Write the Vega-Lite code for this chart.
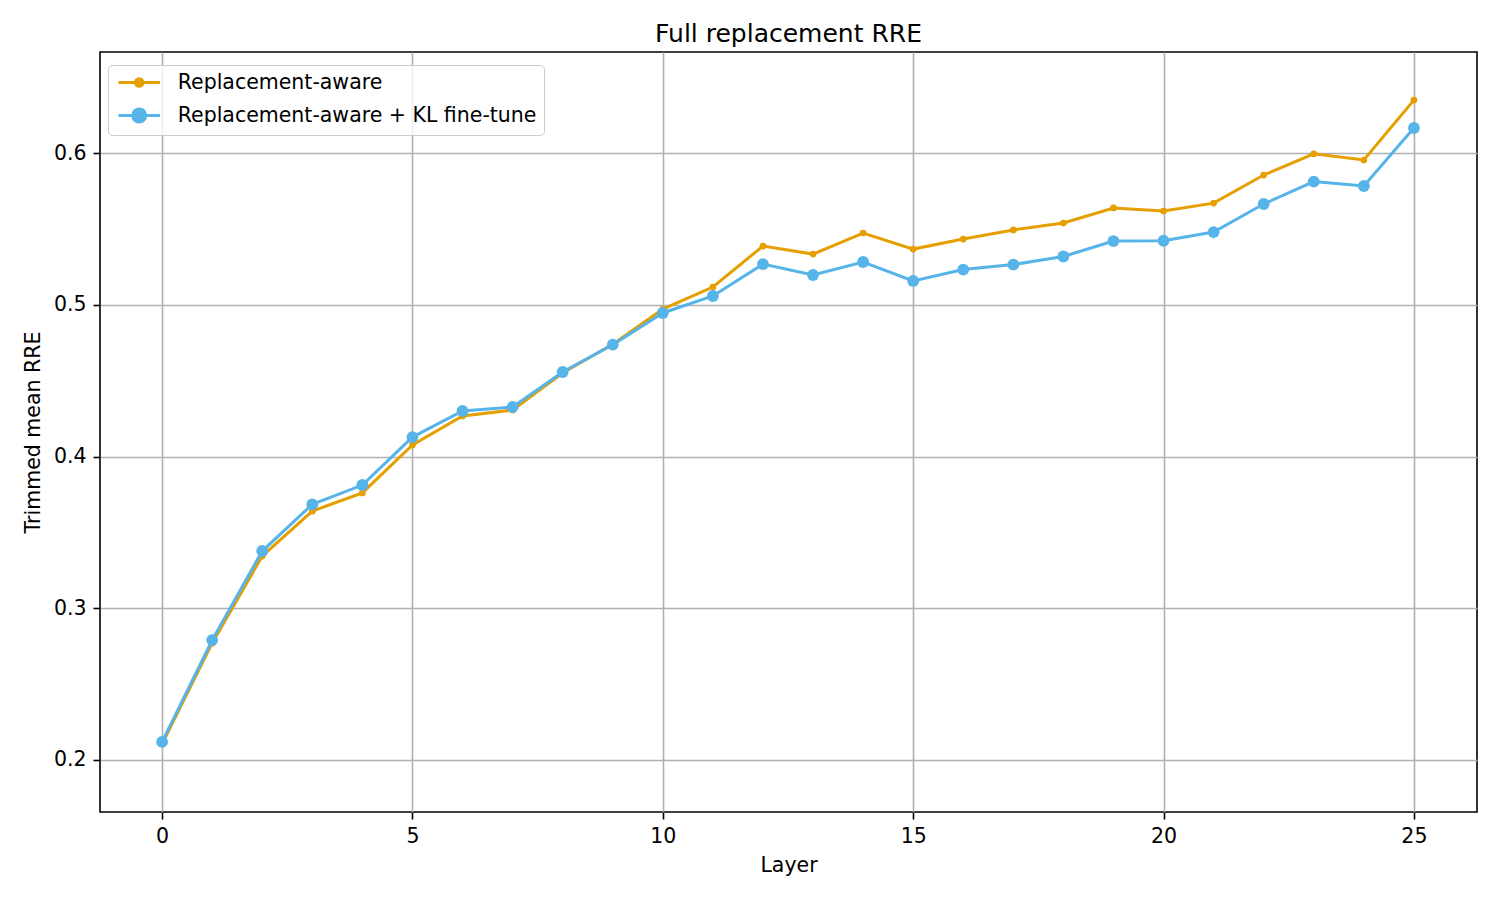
{
  "$schema": "https://vega.github.io/schema/vega-lite/v6.json",
  "autosize": {"type": "none"},
  "padding": {"left": 100, "top": 52, "right": 23, "bottom": 88},
  "width": 1377,
  "height": 760,
  "background": "white",
  "title": {
    "text": "Full replacement RRE",
    "font": "DejaVu Sans",
    "fontSize": 25,
    "fontWeight": "normal",
    "color": "black",
    "offset": 5
  },
  "config": {
    "view": {"stroke": "black", "strokeWidth": 1.6},
    "axis": {
      "labelFont": "DejaVu Sans",
      "labelFontSize": 20.5,
      "labelColor": "black",
      "titleFont": "DejaVu Sans",
      "titleFontSize": 20.5,
      "titleFontWeight": "normal",
      "titleColor": "black",
      "domain": false,
      "tickColor": "black",
      "tickWidth": 1.6,
      "tickSize": 7,
      "gridColor": "#b0b0b0",
      "gridWidth": 1.6,
      "labelPadding": 7
    }
  },
  "data": {
    "values": [
      {"layer": 0, "series": "Replacement-aware", "rre": 0.2105},
      {"layer": 1, "series": "Replacement-aware", "rre": 0.2770},
      {"layer": 2, "series": "Replacement-aware", "rre": 0.3344},
      {"layer": 3, "series": "Replacement-aware", "rre": 0.3640},
      {"layer": 4, "series": "Replacement-aware", "rre": 0.3760},
      {"layer": 5, "series": "Replacement-aware", "rre": 0.4076},
      {"layer": 6, "series": "Replacement-aware", "rre": 0.4267},
      {"layer": 7, "series": "Replacement-aware", "rre": 0.4306},
      {"layer": 8, "series": "Replacement-aware", "rre": 0.4550},
      {"layer": 9, "series": "Replacement-aware", "rre": 0.4740},
      {"layer": 10, "series": "Replacement-aware", "rre": 0.4972},
      {"layer": 11, "series": "Replacement-aware", "rre": 0.5117},
      {"layer": 12, "series": "Replacement-aware", "rre": 0.5387},
      {"layer": 13, "series": "Replacement-aware", "rre": 0.5334},
      {"layer": 14, "series": "Replacement-aware", "rre": 0.5473},
      {"layer": 15, "series": "Replacement-aware", "rre": 0.5367},
      {"layer": 16, "series": "Replacement-aware", "rre": 0.5433},
      {"layer": 17, "series": "Replacement-aware", "rre": 0.5493},
      {"layer": 18, "series": "Replacement-aware", "rre": 0.5539},
      {"layer": 19, "series": "Replacement-aware", "rre": 0.5638},
      {"layer": 20, "series": "Replacement-aware", "rre": 0.5618},
      {"layer": 21, "series": "Replacement-aware", "rre": 0.5670},
      {"layer": 22, "series": "Replacement-aware", "rre": 0.5855},
      {"layer": 23, "series": "Replacement-aware", "rre": 0.5995},
      {"layer": 24, "series": "Replacement-aware", "rre": 0.5954},
      {"layer": 25, "series": "Replacement-aware", "rre": 0.6349},
      {"layer": 0, "series": "Replacement-aware + KL fine-tune", "rre": 0.2119},
      {"layer": 1, "series": "Replacement-aware + KL fine-tune", "rre": 0.2790},
      {"layer": 2, "series": "Replacement-aware + KL fine-tune", "rre": 0.3377},
      {"layer": 3, "series": "Replacement-aware + KL fine-tune", "rre": 0.3685},
      {"layer": 4, "series": "Replacement-aware + KL fine-tune", "rre": 0.3812},
      {"layer": 5, "series": "Replacement-aware + KL fine-tune", "rre": 0.4128},
      {"layer": 6, "series": "Replacement-aware + KL fine-tune", "rre": 0.4300},
      {"layer": 7, "series": "Replacement-aware + KL fine-tune", "rre": 0.4326},
      {"layer": 8, "series": "Replacement-aware + KL fine-tune", "rre": 0.4557},
      {"layer": 9, "series": "Replacement-aware + KL fine-tune", "rre": 0.4737},
      {"layer": 10, "series": "Replacement-aware + KL fine-tune", "rre": 0.4946},
      {"layer": 11, "series": "Replacement-aware + KL fine-tune", "rre": 0.5058},
      {"layer": 12, "series": "Replacement-aware + KL fine-tune", "rre": 0.5268},
      {"layer": 13, "series": "Replacement-aware + KL fine-tune", "rre": 0.5196},
      {"layer": 14, "series": "Replacement-aware + KL fine-tune", "rre": 0.5282},
      {"layer": 15, "series": "Replacement-aware + KL fine-tune", "rre": 0.5157},
      {"layer": 16, "series": "Replacement-aware + KL fine-tune", "rre": 0.5232},
      {"layer": 17, "series": "Replacement-aware + KL fine-tune", "rre": 0.5265},
      {"layer": 18, "series": "Replacement-aware + KL fine-tune", "rre": 0.5318},
      {"layer": 19, "series": "Replacement-aware + KL fine-tune", "rre": 0.5420},
      {"layer": 20, "series": "Replacement-aware + KL fine-tune", "rre": 0.5422},
      {"layer": 21, "series": "Replacement-aware + KL fine-tune", "rre": 0.5479},
      {"layer": 22, "series": "Replacement-aware + KL fine-tune", "rre": 0.5664},
      {"layer": 23, "series": "Replacement-aware + KL fine-tune", "rre": 0.5812},
      {"layer": 24, "series": "Replacement-aware + KL fine-tune", "rre": 0.5783},
      {"layer": 25, "series": "Replacement-aware + KL fine-tune", "rre": 0.6165}
    ]
  },
  "encoding": {
    "x": {
      "field": "layer",
      "type": "quantitative",
      "title": "Layer",
      "scale": {"domain": [-1.24, 26.26], "nice": false, "zero": false},
      "axis": {"values": [0, 5, 10, 15, 20, 25], "titlePadding": 9}
    },
    "y": {
      "field": "rre",
      "type": "quantitative",
      "title": "Trimmed mean RRE",
      "scale": {"domain": [0.1657, 0.6666], "nice": false, "zero": false},
      "axis": {"values": [0.2, 0.3, 0.4, 0.5, 0.6], "format": ".1f", "titlePadding": 10}
    },
    "color": {
      "field": "series",
      "type": "nominal",
      "scale": {
        "domain": ["Replacement-aware", "Replacement-aware + KL fine-tune"],
        "range": ["#E69F00", "#56B4E9"]
      },
      "legend": {
        "title": null,
        "orient": "none",
        "legendX": 8,
        "legendY": 13,
        "labelFont": "DejaVu Sans",
        "labelFontSize": 20.5,
        "labelColor": "black",
        "labelLimit": 600,
        "symbolSize": 324,
        "symbolOffset": 13.7,
        "symbolStrokeWidth": 3,
        "labelOffset": 28,
        "rowPadding": 10,
        "padding": 7,
        "fillColor": "rgba(255,255,255,0.8)",
        "strokeColor": "#cccccc",
        "cornerRadius": 4,
        "encode": {
          "symbols": {
            "update": {
              "shape": {"signal": "datum.value == 'Replacement-aware' ? 'M-2.3,0L2.3,0M0.42,0A0.42,0.42,0,1,1,-0.42,0A0.42,0.42,0,1,1,0.42,0Z' : 'M-2.3,0L2.3,0M0.72,0A0.72,0.72,0,1,1,-0.72,0A0.72,0.72,0,1,1,0.72,0Z'"},
              "fill": {"scale": "color", "field": "value"},
              "stroke": {"scale": "color", "field": "value"},
              "fillOpacity": {"value": 1},
              "strokeWidth": {"value": 3}
            }
          }
        }
      }
    }
  },
  "layer": [
    {
      "transform": [{"filter": "datum.series == 'Replacement-aware'"}],
      "mark": {"type": "line", "strokeWidth": 3}
    },
    {
      "transform": [{"filter": "datum.series == 'Replacement-aware'"}],
      "mark": {"type": "point", "filled": true, "opacity": 1, "size": 45}
    },
    {
      "transform": [{"filter": "datum.series == 'Replacement-aware + KL fine-tune'"}],
      "mark": {"type": "line", "strokeWidth": 3}
    },
    {
      "transform": [{"filter": "datum.series == 'Replacement-aware + KL fine-tune'"}],
      "mark": {"type": "point", "filled": true, "opacity": 1, "size": 140}
    }
  ]
}
